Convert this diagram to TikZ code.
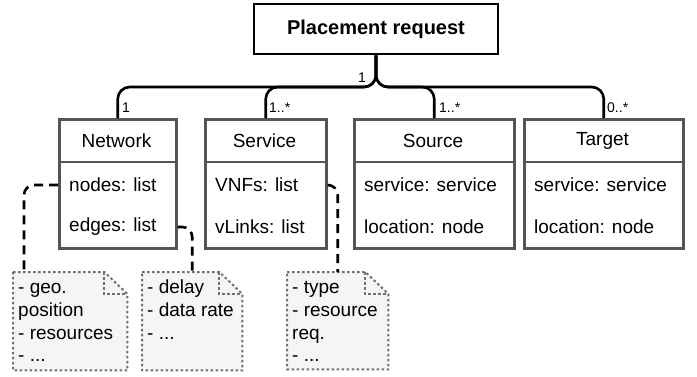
\documentclass[tikz,border=0pt]{standalone}
\usepackage{fontspec}
\setmainfont{Liberation Sans}
\definecolor{clsgray}{HTML}{555555}
\definecolor{notegray}{HTML}{707070}
\definecolor{notefill}{HTML}{F5F5F5}
\begin{document}
\begin{tikzpicture}[x=1pt,y=-1pt,
  cls/.style={draw=clsgray, line width=2.5pt, fill=white, anchor=north west, inner sep=0pt},
  clsline/.style={draw=clsgray, line width=2.5pt},
  ttl/.style={font=\fontsize{19}{23}\selectfont, anchor=center, inner sep=0pt},
  attr/.style={font=\fontsize{19}{23}\selectfont, anchor=west, inner sep=0pt},
  mult/.style={font=\fontsize{14}{16}\selectfont, inner sep=0pt},
  conn/.style={draw=black, line width=2.6pt, rounded corners=12pt},
  dconn/.style={draw=black, line width=2.6pt, dash pattern=on 9pt off 6pt, rounded corners=10pt},
  notebox/.style={draw=notegray, fill=notefill, line width=2pt, dash pattern=on 2.5pt off 2.5pt},
  notefold/.style={draw=notegray, line width=2pt, dash pattern=on 2.5pt off 2.5pt},
  notenode/.style={anchor=north west, inner sep=0pt},
  ntext/.style={font=\fontsize{19}{23}\selectfont, anchor=base west, inner sep=0pt},
]
\useasboundingbox (0,0) rectangle (697,376);
\fill[white] (0,0) rectangle (697,376);

% Placement request
\node[draw=black, line width=2.8pt, minimum width=244pt, minimum height=50pt, inner sep=0pt,
      font=\fontsize{20}{24}\selectfont\bfseries] (pr) at (376,29) {Placement request};

\coordinate (bus) at (0,87);

% Class boxes
\node[cls, minimum width=117pt, minimum height=129pt] (net) at (58,118) {};
\node[cls, minimum width=121pt, minimum height=129pt] (svc) at (204,118) {};
\node[cls, minimum width=160pt, minimum height=129pt] (src) at (353,118) {};
\node[cls, minimum width=159pt, minimum height=129pt] (tgt) at (523,118) {};

\draw[clsline] (net.west |- 0,162) -- (net.east |- 0,162);
\draw[clsline] (svc.west |- 0,162) -- (svc.east |- 0,162);
\draw[clsline] (src.west |- 0,162) -- (src.east |- 0,162);
\draw[clsline] (tgt.west |- 0,162) -- (tgt.east |- 0,162);

\node[ttl] (nett) at (116.5,140.5) {Network};
\node[ttl] (svct) at (264.5,140.5) {Service};
\node[ttl] (srct) at (433,140.5) {Source};
\node[ttl] (tgtt) at (602.5,140.5) {Target};

\node[attr] (netnodes) at (69,185) {nodes: list};
\node[attr] (netedges) at (69,227) {edges: list};
\node[attr] (svcvnfs) at (215,185) {VNFs: list};
\node[attr] (svclinks) at (215,227) {vLinks: list};
\node[attr] (srcsvc) at (364,185) {service: service};
\node[attr] (srcloc) at (364,227) {location: node};
\node[attr] (tgtsvc) at (534,185) {service: service};
\node[attr] (tgtloc) at (534,227) {location: node};

% Composition connectors
\draw[conn] (pr.south) -- (pr.south |- bus) -| (net.north);
\draw[conn] (pr.south) -- (pr.south |- bus) -| (svc.north);
\draw[conn] (pr.south) -- (pr.south |- bus) -| (src.north);
\draw[conn] (pr.south) -- (pr.south |- bus) -| (tgt.north);

\node[mult, anchor=east] (m0) at (366,78) {1};
\node[mult, anchor=west] (m1) at (122,108) {1};
\node[mult, anchor=west] (m2) at (269,108) {1..*};
\node[mult, anchor=west] (m3) at (439,108) {1..*};
\node[mult, anchor=west] (m4) at (607,108) {0..*};

% Notes
\node[notenode, minimum width=114pt, minimum height=98pt] (n1) at (13,272) {};
\node[notenode, minimum width=100pt, minimum height=98pt] (n2) at (142,272) {};
\node[notenode, minimum width=101pt, minimum height=97pt] (n3) at (287,272) {};

\foreach \n in {n1,n2,n3}{
  \draw[notebox] (\n.north west) -- ([xshift=-23pt]\n.north east) -- ([yshift=-22pt]\n.north east)
     -- (\n.south east) -- (\n.south west) -- cycle;
  \draw[notefold] ([xshift=-23pt]\n.north east) -- ([xshift=-23pt,yshift=-22pt]\n.north east)
     -- ([yshift=-22pt]\n.north east);
}

\node[ntext] (n1a) at (18,293) {- geo.};
\node[ntext] (n1b) at (18,316) {position};
\node[ntext] (n1c) at (18,339) {- resources};
\node[ntext] (n1d) at (18,361) {- ...};

\node[ntext] (n2a) at (147,293) {- delay};
\node[ntext] (n2b) at (147,316) {- data rate};
\node[ntext] (n2c) at (147,339) {- ...};

\node[ntext] (n3a) at (292,293) {- type};
\node[ntext] (n3b) at (292,316) {- resource};
\node[ntext] (n3c) at (292,339) {req.};
\node[ntext] (n3d) at (292,361) {- ...};

% Dashed note connectors
\draw[dconn] (net.west |- netnodes) -| ([xshift=11pt]n1.north west);
\draw[dconn] (net.east |- netedges) -| (n2.north);
\draw[dconn] (svc.east |- svcvnfs) -| (n3.north);
\end{tikzpicture}
\end{document}
